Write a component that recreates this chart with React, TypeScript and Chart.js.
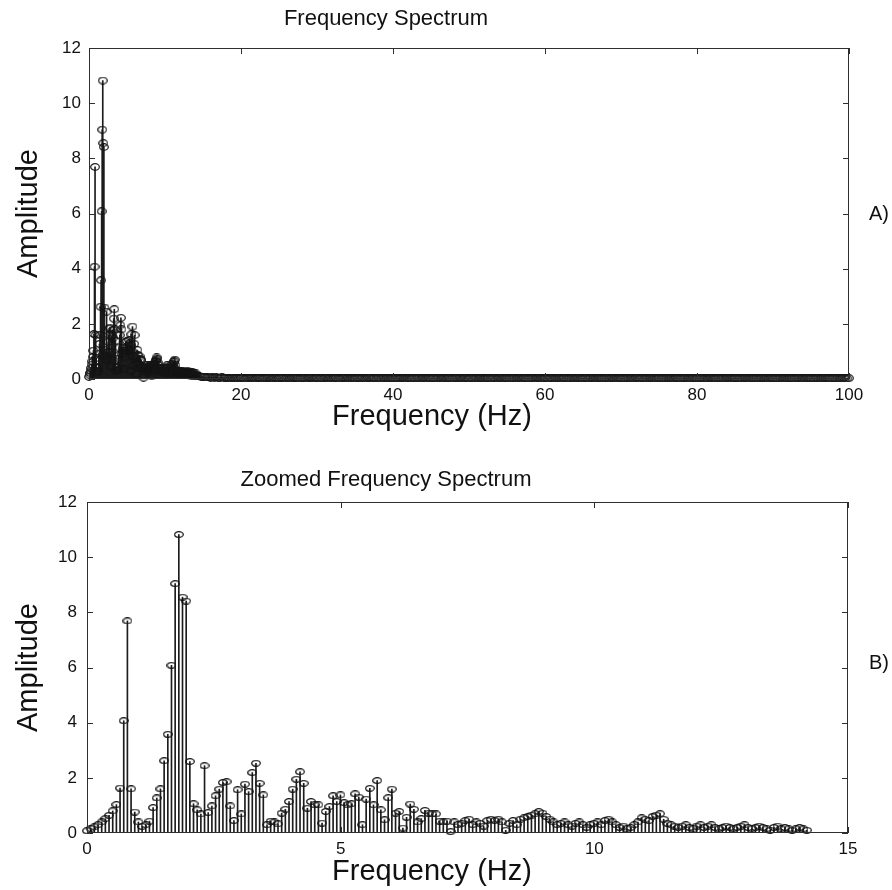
import React, { useEffect, useRef } from "react";
import { Chart, registerables } from "chart.js";

Chart.register(...registerables);

// Frequency resolution of the spectrum (Hz per bin)
const DF = 0.0724;

// Amplitudes of bins 0 .. 196 (0 .. ~14.2 Hz)
const AMPLITUDE = [
  0.08, 0.16, 0.22, 0.3, 0.4, 0.52, 0.64, 0.8, 1.03, 1.63, 4.07,
  7.69,
  1.6, 0.76, 0.4, 0.24, 0.3, 0.43, 0.92, 1.27, 1.6, 2.62, 3.58, 6.08, 9.04,
  10.82, 8.55, 8.41, 2.59, 1.06, 0.84, 0.69, 2.44,
  0.74, 0.98, 1.35, 1.59, 1.83, 1.86, 0.98, 0.45, 1.57, 0.69, 1.77, 1.5, 2.19, 2.53, 1.8, 1.38, 0.3, 0.43, 0.4, 0.33,
  0.72, 0.86, 1.14, 1.59, 1.95, 2.22, 1.8, 0.9, 1.14, 1.02, 1.02, 0.36, 0.78, 0.96, 1.35, 1.14, 1.38, 1.1, 1.02, 1.06,
  1.42, 1.3, 0.3, 1.23, 1.62, 1.02, 1.9, 0.84, 0.48, 1.28, 1.59, 0.72, 0.78, 0.18, 0.57, 1.05, 0.86, 0.4, 0.52, 0.82,
  0.72, 0.69, 0.69, 0.43, 0.4, 0.43, 0.05, 0.4, 0.3,
  0.35, 0.45, 0.5, 0.3, 0.4, 0.35, 0.25, 0.45, 0.5,
  0.45, 0.5, 0.4, 0.1, 0.35, 0.45, 0.3, 0.5, 0.55, 0.6,
  0.65, 0.7, 0.78, 0.72, 0.6, 0.5, 0.4, 0.3,
  0.35, 0.4, 0.3, 0.25, 0.35, 0.4, 0.3, 0.2, 0.3, 0.35, 0.4, 0.3,
  0.45, 0.5, 0.4, 0.3, 0.2, 0.25, 0.15, 0.2, 0.3, 0.4,
  0.55, 0.5, 0.45, 0.6, 0.65, 0.7, 0.5, 0.35,
  0.3, 0.25, 0.2, 0.25, 0.3, 0.2, 0.15, 0.25, 0.3, 0.2, 0.25, 0.3, 0.2, 0.15, 0.2, 0.25, 0.2, 0.15, 0.2,
  0.25, 0.3, 0.2, 0.15, 0.2, 0.25, 0.2, 0.15, 0.1, 0.2, 0.25, 0.15, 0.2, 0.15, 0.1, 0.15, 0.2, 0.15, 0.1,
];

// Near-zero floor of the full spectrum from 14.5 Hz to 100 Hz (sampled every 0.25 Hz)
const TAIL_START = 14.5;
const TAIL_STEP = 0.25;
const TAIL_AMPLITUDE = [
  0.1, 0.08, 0.09, 0.07, 0.06, 0.08, 0.05, 0.06, 0.05, 0.07, 0.04, 0.05, 0.06, 0.04, 0.05, 0.04, 0.03, 0.05, 0.04, 0.03,
  0.04, 0.03, 0.04, 0.03, 0.02, 0.03, 0.04, 0.03, 0.03, 0.02, 0.03, 0.04, 0.03, 0.02, 0.03, 0.03, 0.04, 0.03, 0.02, 0.03,
  0.03, 0.02, 0.03, 0.04, 0.03, 0.02, 0.03, 0.03, 0.02, 0.03, 0.04, 0.03, 0.02, 0.02, 0.03, 0.03, 0.02, 0.03, 0.04, 0.03,
  0.02, 0.03, 0.03, 0.02, 0.03, 0.02, 0.04, 0.03, 0.02, 0.03, 0.02, 0.03, 0.03, 0.02, 0.02, 0.03, 0.04, 0.02, 0.03, 0.02,
  0.03, 0.02, 0.02, 0.03, 0.03, 0.02, 0.03, 0.02, 0.02, 0.04, 0.03, 0.02, 0.03, 0.02, 0.03, 0.02, 0.02, 0.03, 0.02, 0.03,
  0.02, 0.03, 0.02, 0.02, 0.03, 0.02, 0.03, 0.03, 0.02, 0.02, 0.03, 0.02, 0.02, 0.03, 0.02, 0.03, 0.02, 0.02, 0.03, 0.02,
  0.02, 0.03, 0.02, 0.03, 0.02, 0.02, 0.03, 0.02, 0.02, 0.03, 0.02, 0.03, 0.02, 0.02, 0.02, 0.03, 0.02, 0.03, 0.02, 0.02,
  0.03, 0.02, 0.02, 0.03, 0.02, 0.02, 0.03, 0.02, 0.03, 0.02, 0.02, 0.02, 0.03, 0.02, 0.02, 0.03, 0.02, 0.02, 0.03, 0.02,
  0.02, 0.03, 0.02, 0.02, 0.02, 0.03, 0.02, 0.02, 0.03, 0.02, 0.02, 0.03, 0.02, 0.02, 0.02, 0.03, 0.02, 0.02, 0.03, 0.02,
  0.02, 0.02, 0.03, 0.02, 0.02, 0.03, 0.02, 0.02, 0.02, 0.03, 0.02, 0.02, 0.03, 0.02, 0.02, 0.02, 0.03, 0.02, 0.02, 0.03,
  0.02, 0.02, 0.02, 0.03, 0.02, 0.02, 0.03, 0.02, 0.02, 0.02, 0.03, 0.02, 0.02, 0.02, 0.03, 0.02, 0.02, 0.03, 0.02, 0.02,
  0.02, 0.03, 0.02, 0.02, 0.02, 0.03, 0.02, 0.02, 0.02, 0.02, 0.03, 0.02, 0.02, 0.03, 0.02, 0.02, 0.02, 0.03, 0.02, 0.02,
  0.02, 0.02, 0.03, 0.02, 0.02, 0.02, 0.03, 0.02, 0.02, 0.02, 0.02, 0.03, 0.02, 0.02, 0.02, 0.03, 0.02, 0.02, 0.02, 0.02,
  0.03, 0.02, 0.02, 0.02, 0.03, 0.02, 0.02, 0.02, 0.02, 0.03, 0.02, 0.02, 0.02, 0.03, 0.02, 0.02, 0.02, 0.02, 0.03, 0.02,
  0.02, 0.02, 0.03, 0.02, 0.02, 0.02, 0.02, 0.03, 0.02, 0.02, 0.02, 0.03, 0.02, 0.02, 0.02, 0.02, 0.03, 0.02, 0.02, 0.02,
  0.02, 0.03, 0.02, 0.02, 0.02, 0.02, 0.03, 0.02, 0.02, 0.02, 0.02, 0.03, 0.02, 0.02, 0.02, 0.03, 0.02, 0.02, 0.02, 0.02,
  0.03, 0.02, 0.02, 0.02, 0.02, 0.03, 0.02, 0.02, 0.02, 0.03, 0.02, 0.02, 0.02, 0.02, 0.03, 0.02, 0.02, 0.02, 0.02, 0.03,
  0.02, 0.02, 0.03,
];

const FULL_X_TICKS = [0, 20, 40, 60, 80, 100];
const ZOOM_X_TICKS = [0, 5, 10, 15];
const Y_TICKS = [0, 2, 4, 6, 8, 10, 12];

const FONT = '"Liberation Sans", Arial, Helvetica, sans-serif';
const INK = "#111111";

function makeMarker(w: number, h: number) {
  const c = document.createElement("canvas");
  c.width = w;
  c.height = h;
  const ctx = c.getContext("2d")!;
  ctx.strokeStyle = "#151515";
  ctx.lineWidth = 1.2;
  ctx.beginPath();
  ctx.ellipse(w / 2, h / 2, w / 2 - 0.7, h / 2 - 0.7, 0, 0, Math.PI * 2);
  ctx.stroke();
  return c;
}

const framePlugin = {
  id: "frame",
  afterDatasetsDraw(chart: any, _args: any, opts: any) {
    const { ctx, chartArea: a, scales } = chart;
    ctx.save();
    ctx.strokeStyle = "#2e2e2e";
    ctx.lineWidth = 1;
    ctx.strokeRect(Math.round(a.left) + 0.5, Math.round(a.top) + 0.5, Math.round(a.right - a.left) - 1, Math.round(a.bottom - a.top) - 1);
    const tl = 6;
    ctx.beginPath();
    for (const v of opts.xTicks) {
      const x = Math.round(scales.x.getPixelForValue(v)) + 0.5;
      ctx.moveTo(x, a.bottom);
      ctx.lineTo(x, a.bottom - tl);
      ctx.moveTo(x, a.top);
      ctx.lineTo(x, a.top + tl);
    }
    for (const v of opts.yTicks) {
      const y = Math.round(scales.y.getPixelForValue(v)) + 0.5;
      ctx.moveTo(a.left, y);
      ctx.lineTo(a.left + tl, y);
      ctx.moveTo(a.right, y);
      ctx.lineTo(a.right - tl, y);
    }
    ctx.stroke();
    ctx.fillStyle = INK;
    ctx.textBaseline = "middle";
    ctx.textAlign = "center";
    ctx.font = `${opts.titleSize}px ${FONT}`;
    ctx.fillText(opts.title, opts.titleX, opts.titleY);
    ctx.font = `${opts.axisSize}px ${FONT}`;
    ctx.fillText(opts.xLabel, opts.xLabelX, opts.xLabelY);
    ctx.textAlign = "left";
    ctx.font = `${opts.tagSize}px ${FONT}`;
    ctx.fillText(opts.tag, opts.tagX, opts.tagY);
    ctx.restore();
  },
};

function buildConfig(p: {
  stems: { x: number; y: number }[];
  xMax: number;
  xStep: number;
  xTicks: number[];
  marker: HTMLCanvasElement;
  padRight: number;
  padTop: number;
  yWidth: number;
  yTickPad: number;
  xHeight: number;
  xLabelY: number;
  title: string;
  titleY: number;
  tag: string;
  tagY: number;
}): any {
  return {
    type: "bar",
    data: {
      datasets: [
        {
          type: "bar",
          data: p.stems,
          backgroundColor: "#1c1c1c",
          barThickness: 1,
          grouped: false,
          order: 2,
        },
        {
          type: "scatter",
          data: p.stems,
          pointStyle: p.marker,
          pointRadius: 4,
          showLine: false,
          clip: false,
          order: 1,
        },
      ],
    },
    options: {
      animation: false,
      responsive: false,
      events: [],
      layout: { padding: { left: 0, right: p.padRight, top: p.padTop, bottom: 0 } },
      plugins: {
        legend: { display: false },
        tooltip: { enabled: false },
        title: { display: false },
        frame: {
          xTicks: p.xTicks,
          yTicks: Y_TICKS,
          title: p.title,
          titleX: 386,
          titleY: p.titleY,
          titleSize: 22,
          xLabel: "Frequency (Hz)",
          xLabelX: 432,
          xLabelY: p.xLabelY,
          axisSize: 29,
          tag: p.tag,
          tagX: 869,
          tagY: p.tagY,
          tagSize: 20,
        },
      },
      scales: {
        x: {
          type: "linear",
          min: 0,
          max: p.xMax,
          offset: false,
          grid: { display: false, drawTicks: false },
          border: { display: false },
          ticks: { stepSize: p.xStep, color: INK, font: { family: FONT, size: 17 }, padding: 6, maxRotation: 0, autoSkip: false },
          title: { display: false },
          afterFit: (s: any) => {
            s.height = p.xHeight;
          },
        },
        y: {
          type: "linear",
          min: 0,
          max: 12,
          grid: { display: false, drawTicks: false },
          border: { display: false },
          ticks: { stepSize: 2, color: INK, font: { family: FONT, size: 17 }, padding: p.yTickPad },
          title: {
            display: true,
            text: "Amplitude",
            color: INK,
            font: { family: FONT, size: 29 },
            padding: { top: 12, bottom: 0 },
          },
          afterFit: (s: any) => {
            s.width = p.yWidth;
          },
        },
      },
    },
    plugins: [framePlugin],
  };
}

export default function App() {
  const topRef = useRef<HTMLCanvasElement>(null);
  const bottomRef = useRef<HTMLCanvasElement>(null);

  useEffect(() => {
    const zoomStems = AMPLITUDE.map((v, i) => ({ x: +(i * DF).toFixed(4), y: v }));
    const tailStems = TAIL_AMPLITUDE.map((v, i) => ({ x: TAIL_START + i * TAIL_STEP, y: v }));
    const fullStems = zoomStems.concat(tailStems);

    const top = new Chart(
      topRef.current!,
      buildConfig({
        stems: fullStems,
        xMax: 100,
        xStep: 20,
        xTicks: FULL_X_TICKS,
        marker: makeMarker(10, 8),
        padRight: 43,
        padTop: 48,
        yWidth: 89,
        yTickPad: 8,
        xHeight: 66,
        xLabelY: 417,
        title: "Frequency Spectrum",
        titleY: 19,
        tag: "A)",
        tagY: 214,
      })
    );
    const bottom = new Chart(
      bottomRef.current!,
      buildConfig({
        stems: zoomStems,
        xMax: 15,
        xStep: 5,
        xTicks: ZOOM_X_TICKS,
        marker: makeMarker(10, 7),
        padRight: 44,
        padTop: 57,
        yWidth: 87,
        yTickPad: 10,
        xHeight: 57,
        xLabelY: 427,
        title: "Zoomed Frequency Spectrum",
        titleY: 35,
        tag: "B)",
        tagY: 218,
      })
    );
    return () => {
      top.destroy();
      bottom.destroy();
    };
  }, []);

  return (
    <div style={{ position: "absolute", left: 0, top: 0, width: 892, height: 890, background: "#fff" }}>
      <canvas ref={topRef} width={892} height={445} style={{ display: "block", width: 892, height: 445 }} />
      <canvas ref={bottomRef} width={892} height={445} style={{ display: "block", width: 892, height: 445 }} />
    </div>
  );
}
